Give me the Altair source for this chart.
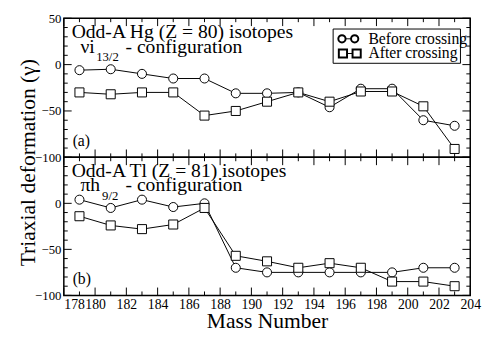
import altair as alt
import pandas as pd

# ---------------- data ----------------
mass = [179, 181, 183, 185, 187, 189, 191, 193, 195, 197, 199, 201, 203]
hg_before = [-6, -5, -10, -15, -15, -31, -31, -30, -46, -26, -26, -60, -66]
hg_after = [-30, -32, -30, -30, -55, -50, -40, -30, -40, -29, -29, -45, -91]
tl_before = [4, -5, 4, -4, 0, -70, -75, -75, -75, -75, -75, -70, -70]
tl_after = [-14, -24, -28, -23, -5, -57, -63, -70, -65, -70, -85, -85, -90]
series_names = ["Before crossing", "After crossing"]

x_major = list(range(178, 205, 2))
x_minor = list(range(179, 204, 2))
y_major = [-100, -50, 0, 50]
y_minor = [-90, -80, -70, -60, -40, -30, -20, -10, 10, 20, 30, 40]

FONT = "Liberation Serif, Times New Roman, Times, serif"
W = 415
HA = 142
HB = 141

xs = alt.Scale(domain=[178, 204], nice=False, zero=False)
ys = alt.Scale(domain=[-100, 50], nice=False, zero=False)
one = alt.Data(values=[{}])


def txt(x, y, s, size=20, align="left", baseline="alphabetic"):
    return alt.Chart(one).mark_text(
        text=s, font=FONT, fontSize=size, align=align, baseline=baseline, color="black"
    ).encode(x=alt.value(x), y=alt.value(y))


def X(xaxis):
    if xaxis is None:
        return alt.X("mass:Q", scale=xs, axis=None)
    return alt.X("mass:Q", scale=xs, axis=xaxis)


def tick_layers(H, xaxis, yaxis):
    L_maj, L_min = 8, 4
    out = []
    for vals, L in ((x_major, L_maj), (x_minor, L_min)):
        d = pd.DataFrame({"mass": vals})
        out.append(alt.Chart(d).mark_rule(color="black", strokeWidth=1).encode(
            x=X(xaxis), y=alt.value(H), y2=alt.value(H - L)))
        out.append(alt.Chart(d).mark_rule(color="black", strokeWidth=1).encode(
            x=X(xaxis), y=alt.value(0), y2=alt.value(L)))
    for vals, L in ((y_major, L_maj), (y_minor, L_min)):
        d = pd.DataFrame({"gamma": vals})
        out.append(alt.Chart(d).mark_rule(color="black", strokeWidth=1).encode(
            y=alt.Y("gamma:Q", scale=ys, axis=yaxis), x=alt.value(0), x2=alt.value(L)))
        out.append(alt.Chart(d).mark_rule(color="black", strokeWidth=1).encode(
            y=alt.Y("gamma:Q", scale=ys, axis=yaxis), x=alt.value(W), x2=alt.value(W - L)))
    return out


def panel(before, after, H, xaxis, yaxis, texts):
    df = pd.DataFrame({
        "mass": mass + mass,
        "gamma": before + after,
        "series": [series_names[0]] * len(mass) + [series_names[1]] * len(mass),
    })
    lines = alt.Chart(df).mark_line(color="black", strokeWidth=1).encode(
        x=X(xaxis),
        y=alt.Y("gamma:Q", scale=ys, axis=yaxis),
        detail="series:N",
    )
    pts = alt.Chart(df).mark_point(filled=True, fill="white", stroke="black",
                                   strokeWidth=1, opacity=1, size=85).encode(
        x=X(xaxis),
        y=alt.Y("gamma:Q", scale=ys, axis=yaxis),
        shape=alt.Shape("series:N", scale=alt.Scale(domain=series_names, range=["circle", "square"]), legend=None),
    )
    return alt.layer(lines, pts, *tick_layers(H, xaxis, yaxis), *texts).properties(width=W, height=H)


yaxis_a = alt.Axis(values=y_major, domain=False, ticks=False, labelFont=FONT, labelFontSize=13,
                   labelColor="black", labelPadding=3, grid=False,
                   title="Triaxial deformation (γ)", titleFont=FONT, titleFontSize=22,
                   titleFontWeight="normal", titleColor="black", titleAngle=-90,
                   titleX=-30, titleY=147, titleAlign="center", titleBaseline="alphabetic")
yaxis_b = alt.Axis(values=[0, -50, -100], domain=False, ticks=False, labelFont=FONT, labelFontSize=13,
                   labelColor="black", labelPadding=3, grid=False, title=None)
xaxis_b = alt.Axis(values=x_major, domain=False, ticks=False, labelFont=FONT, labelFontSize=14,
                   labelColor="black", labelPadding=2, grid=False,
                   labelAlign={"condition": {"test": "datum.value == 178", "value": "left"}, "value": "center"},
                   title="Mass Number", titleFont=FONT, titleFontSize=22, titleFontWeight="normal",
                   titleColor="black", titlePadding=0)

legend_layers = [
    alt.Chart(one).mark_rect(fill="white", stroke="black", strokeWidth=1).encode(
        x=alt.value(275), x2=alt.value(405), y=alt.value(11), y2=alt.value(46)),
    alt.Chart(one).mark_rule(color="black").encode(x=alt.value(284), x2=alt.value(297), y=alt.value(21)),
    alt.Chart(one).mark_point(shape="circle", filled=True, fill="white", stroke="black", size=55, opacity=1).encode(
        x=alt.value(284), y=alt.value(21)),
    alt.Chart(one).mark_point(shape="circle", filled=True, fill="white", stroke="black", size=55, opacity=1).encode(
        x=alt.value(297), y=alt.value(21)),
    alt.Chart(one).mark_rule(color="black").encode(x=alt.value(285), x2=alt.value(299), y=alt.value(36)),
    alt.Chart(one).mark_point(shape="square", filled=True, fill="white", stroke="black", size=70, opacity=1).encode(
        x=alt.value(285), y=alt.value(36)),
    alt.Chart(one).mark_point(shape="square", filled=True, fill="white", stroke="black", size=70, opacity=1).encode(
        x=alt.value(299), y=alt.value(36)),
    txt(311, 26, "Before crossing", size=16),
    txt(311, 41, "After crossing", size=16),
]

texts_a = [
    txt(8, 20, "Odd-A Hg (Z = 80) isotopes"),
    txt(17, 35, "νi"),
    txt(33, 44, "13/2", size=13),
    txt(63, 35, "- configuration"),
    txt(9, 130, "(a)", size=16),
] + legend_layers

texts_b = [
    txt(8, 20, "Odd-A Tl (Z = 81) isotopes"),
    txt(17, 34, "πh"),
    txt(39, 44, "9/2", size=13),
    txt(63, 34, "- configuration"),
    txt(9, 129, "(b)", size=16),
]

pa = panel(hg_before, hg_after, HA, None, yaxis_a, texts_a)
pb = panel(tl_before, tl_after, HB, xaxis_b, yaxis_b, texts_b)

chart = alt.vconcat(pa, pb, spacing=0, bounds="flush").properties(
    padding={"left": 8, "top": 0, "right": 0, "bottom": 0}
).configure(background="white").configure_view(stroke="black", strokeWidth=1.5)

chart.save("out.html", embed_options={"renderer": "svg", "actions": False})
